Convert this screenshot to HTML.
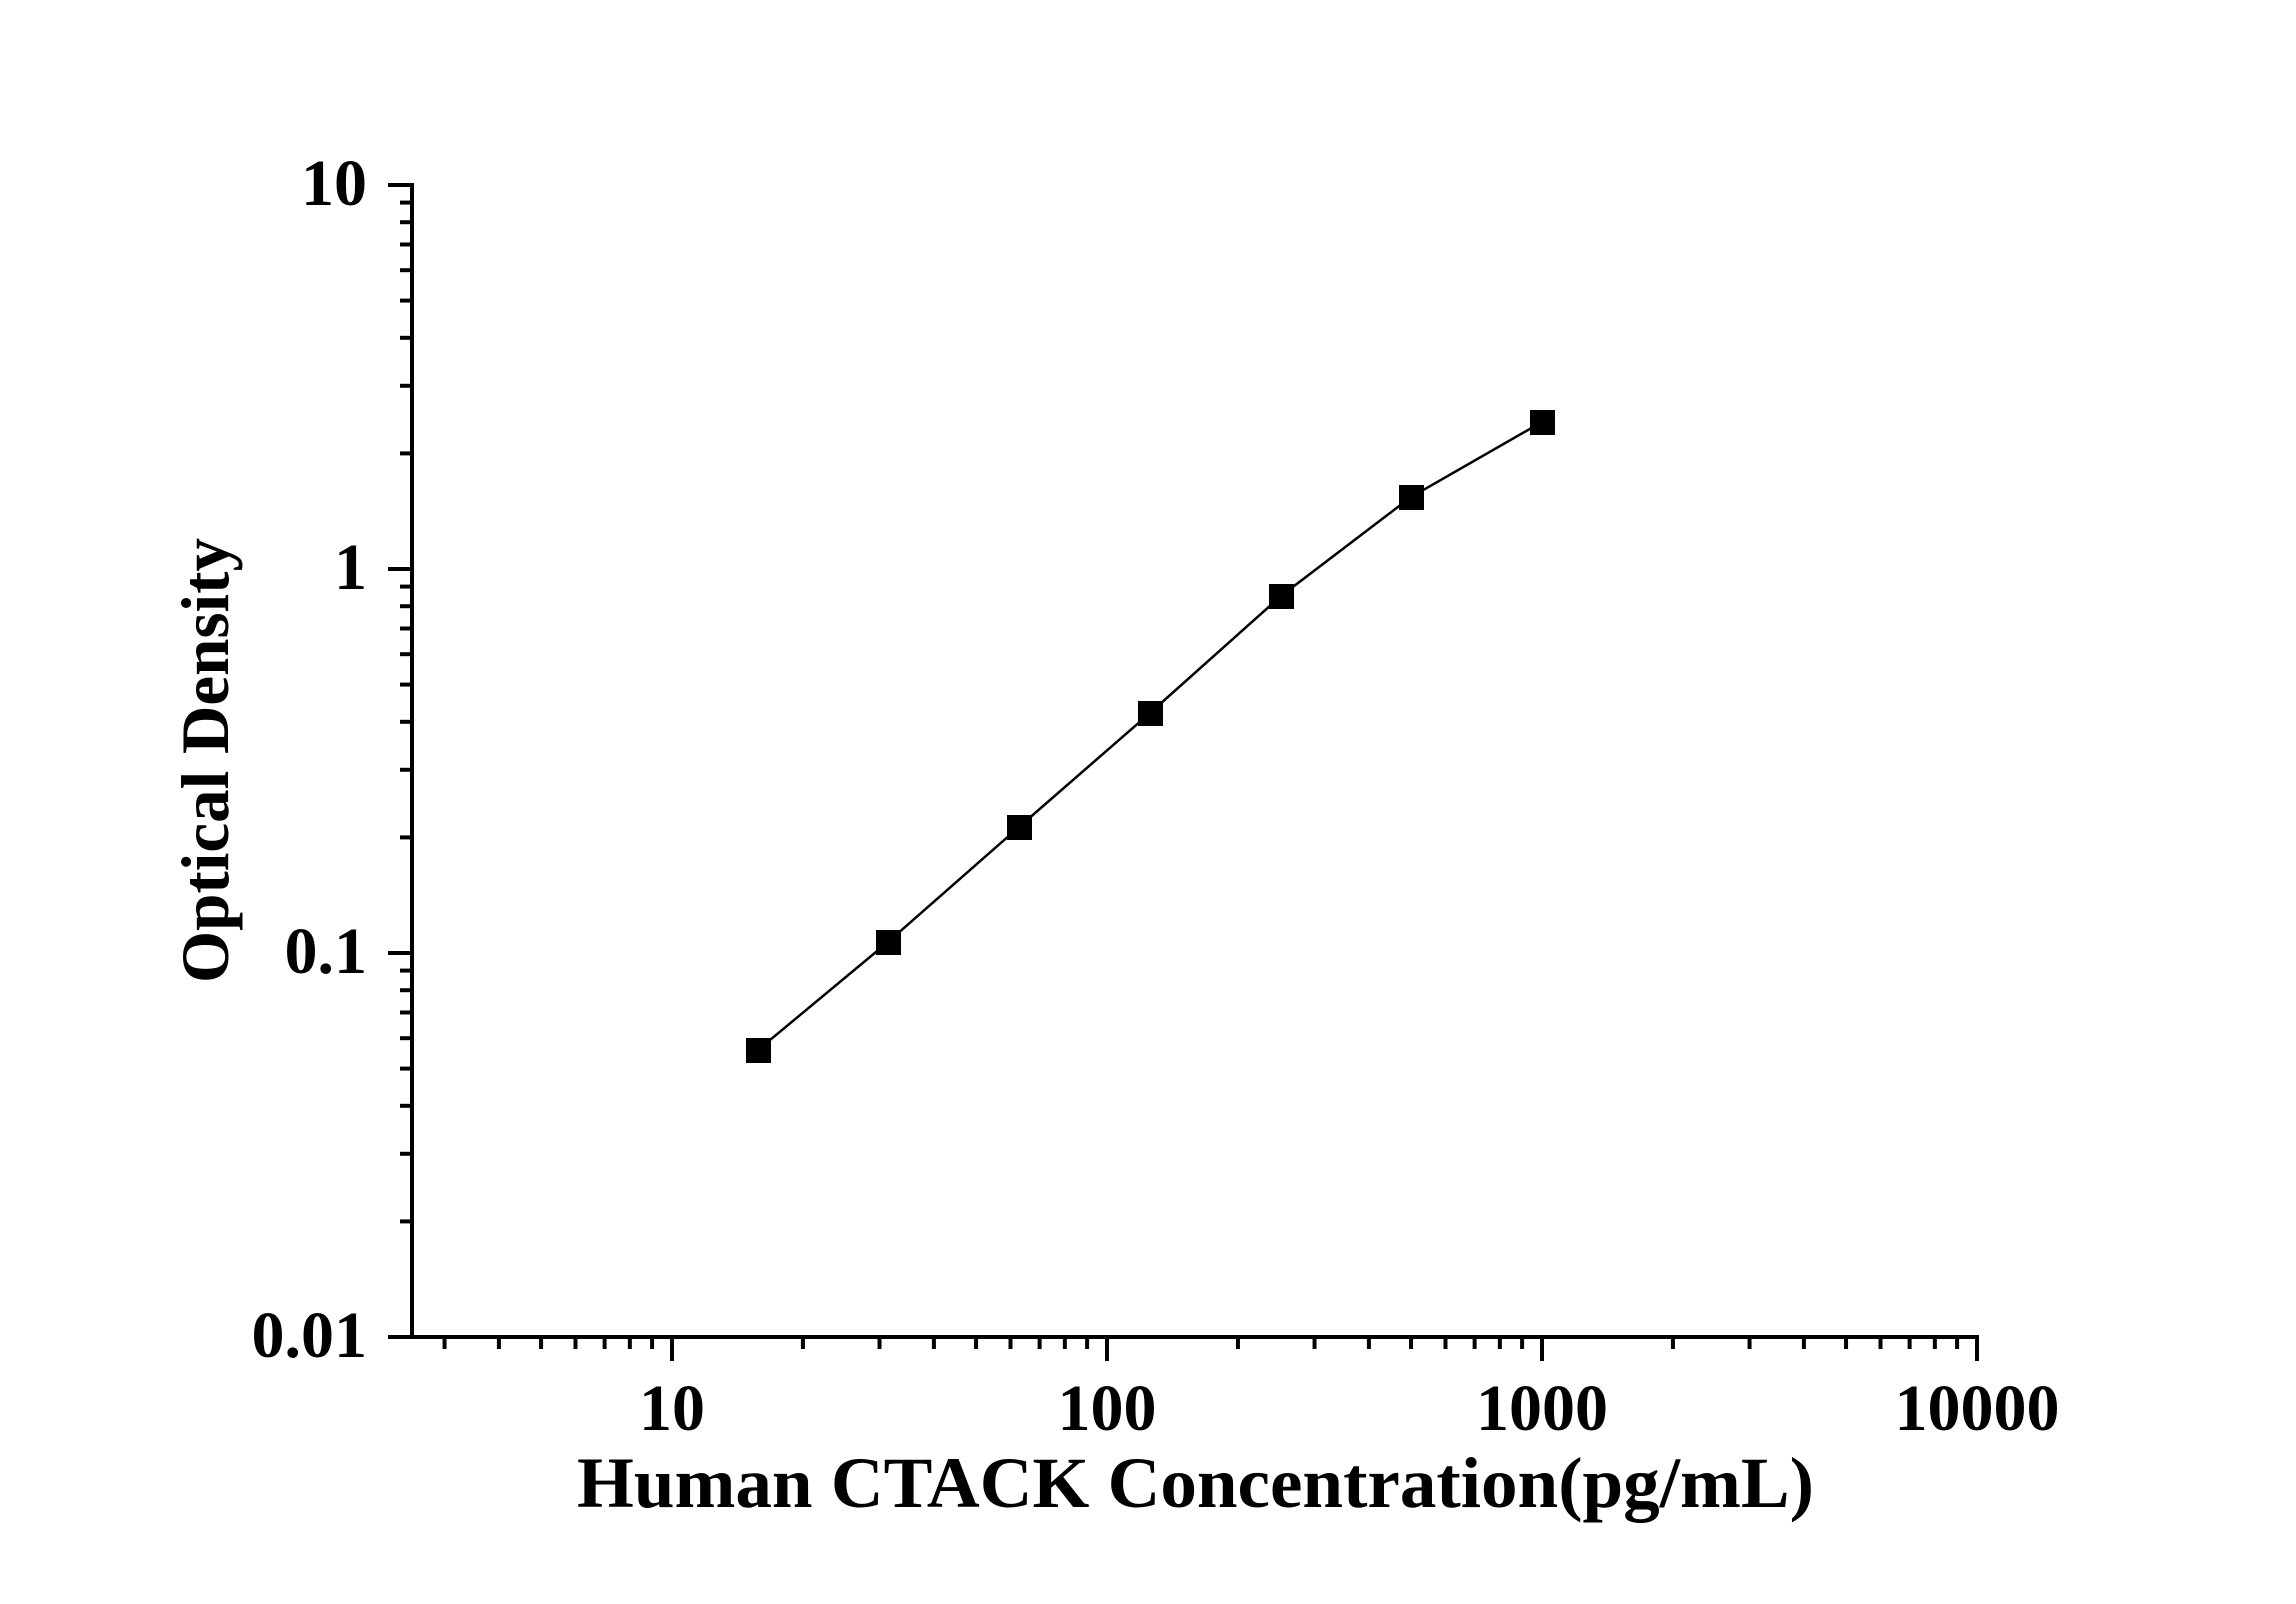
<!DOCTYPE html>
<html><head><meta charset="utf-8"><style>
html,body{margin:0;padding:0;background:#fff;}
svg{display:block;}
text{font-family:"Liberation Serif","Times New Roman",serif;font-weight:bold;fill:#000;}
</style></head><body>
<svg id="s" width="2296" height="1604" viewBox="0 0 2296 1604" xmlns="http://www.w3.org/2000/svg">
<rect width="2296" height="1604" fill="#fff"/>
<g id="ticks" stroke="#000" stroke-width="4" fill="none"></g>
<!-- axes -->
<line x1="412" y1="183" x2="412" y2="1339" stroke="#000" stroke-width="4"/>
<line x1="388" y1="1337" x2="1979" y2="1337" stroke="#000" stroke-width="4"/>
<!-- y labels -->
<g font-size="66" text-anchor="end">
<text x="367" y="205">10</text>
<text x="367" y="589">1</text>
<text x="367" y="973">0.1</text>
<text x="367" y="1357">0.01</text>
</g>
<g font-size="66" text-anchor="middle">
<text x="672" y="1430">10</text>
<text x="1107" y="1430">100</text>
<text x="1542" y="1430">1000</text>
<text x="1977" y="1430">10000</text>
</g>
<text x="577" y="1507" font-size="72" textLength="1237" lengthAdjust="spacingAndGlyphs">Human CTACK Concentration(pg/mL)</text>
<text transform="translate(228,983) rotate(-90)" font-size="68" textLength="445" lengthAdjust="spacingAndGlyphs">Optical Density</text>
<!-- data -->
<polyline points="758,1050 888,942 1019,827 1150,713 1281,596 1411,497 1542,422" fill="none" stroke="#000" stroke-width="2.5"/>
<g fill="#000">
<rect x="746" y="1038" width="25" height="25"/>
<rect x="876" y="930" width="25" height="25"/>
<rect x="1007" y="815" width="25" height="25"/>
<rect x="1138" y="701" width="25" height="25"/>
<rect x="1269" y="584" width="25" height="25"/>
<rect x="1399" y="485" width="25" height="25"/>
<rect x="1530" y="410" width="25" height="25"/>
</g>
</svg>
<script>
var g=document.getElementById('ticks'),ns='http://www.w3.org/2000/svg';
function L(a,b,c,d){var l=document.createElementNS(ns,'line');l.setAttribute('x1',a);l.setAttribute('y1',b);l.setAttribute('x2',c);l.setAttribute('y2',d);g.appendChild(l);}
// x ticks
for(var e=0;e<4;e++){for(var m=1;m<10;m++){var v=Math.log10(m)+e;var x=672+435*(v-1+1)-435;x=672+435*(e+Math.log10(m)-1)+435;
}}
for(var d=0;d<=3;d++){for(var m=1;m<10;m++){var x=672+435*(d+Math.log10(m));if(x>1979)continue;if(m==1)L(x,1337,x,1361);else L(x,1337,x,1349);}}
for(var m=3;m<10;m++){var x=672+435*(Math.log10(m)-1);if(x>414)L(x,1337,x,1349);}
L(1977,1337,1977,1361);
// y ticks
for(var d=-2;d<=0;d++){for(var m=1;m<10;m++){var y=569-384*(d+Math.log10(m));if(m==1)L(388,y,412,y);else L(400,y,412,y);}}
L(388,185,412,185);
</script>
</body></html>
